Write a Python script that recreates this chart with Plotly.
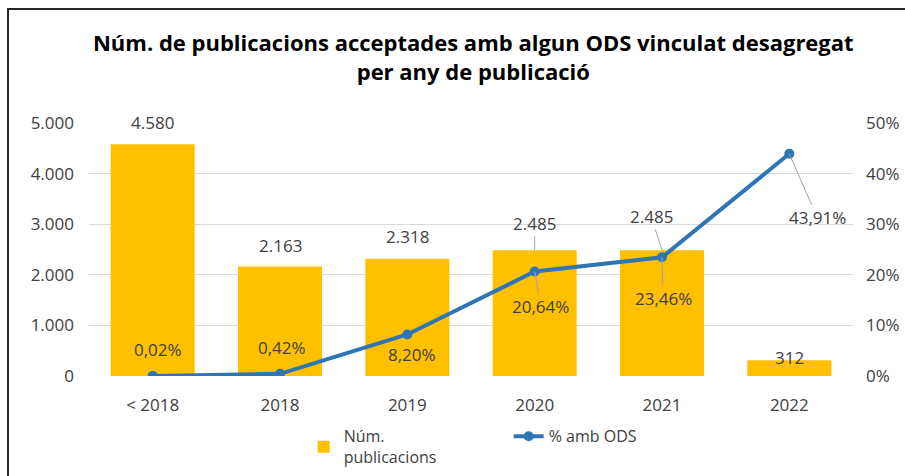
import plotly.graph_objects as go

# ---- data ----
categories = ["< 2018", "2018", "2019", "2020", "2021", "2022"]
num_publicacions = [4580, 2163, 2318, 2485, 2485, 312]
pct_ods = [0.02, 0.42, 8.20, 20.64, 23.46, 43.91]
bar_labels = ["4.580", "2.163", "2.318", "2.485", "2.485", "312"]
pct_labels = ["0,02%", "0,42%", "8,20%", "20,64%", "23,46%", "43,91%"]
left_ticks = [0, 1000, 2000, 3000, 4000, 5000]
left_ticktext = ["0", "1.000", "2.000", "3.000", "4.000", "5.000"]
right_ticks = [0, 10, 20, 30, 40, 50]
right_ticktext = ["0%", "10%", "20%", "30%", "40%", "50%"]

xpos = list(range(len(categories)))

# ---- label placement (pixel offsets, style only) ----
# (dx, dy, leader): label centre offset from the point in screen px (dy up positive)
bar_label_pos = [(0, 22, False), (0, 21, False), (0, 22, False),
                 (0, 27, True), (-11, 34, True), (0, 3, False)]
pct_label_pos = [(5, 26, False), (2, 26, False), (5, -20, False),
                 (6, -35, True), (1, -41, True), (28, -64, True)]

FONT = "Open Sans"
TXT = "#404040"
BAR_COLOR = "#FFC000"
LINE_COLOR = "#2E75B6"
LEADER = "#A6A6A6"
LFONT = dict(family=FONT, size=17, color=TXT)

fig = go.Figure()
fig.add_trace(go.Bar(
    x=xpos, y=num_publicacions, name="Núm.<br>publicacions",
    marker=dict(color=BAR_COLOR, line=dict(width=0)), yaxis="y",
))
fig.add_trace(go.Scatter(
    x=xpos, y=pct_ods, name="% amb ODS", mode="lines+markers",
    line=dict(color=LINE_COLOR, width=4), marker=dict(size=10, color=LINE_COLOR),
    yaxis="y2",
))


def add_labels(values, labels, placements, yref):
    out = []
    for xi, v, lab, (dx, dy, leader) in zip(xpos, values, labels, placements):
        if leader:
            out.append(dict(x=xi, y=v, xref="x", yref=yref, text=lab, showarrow=True,
                            arrowhead=0, arrowwidth=1, arrowcolor=LEADER, ax=dx, ay=-dy,
                            font=LFONT))
        else:
            out.append(dict(x=xi, y=v, xref="x", yref=yref, text=lab, showarrow=False,
                            xshift=dx, yshift=dy, font=LFONT))
    return out


annotations = add_labels(num_publicacions, bar_labels, bar_label_pos, "y") + \
    add_labels(pct_ods, pct_labels, pct_label_pos, "y2")

fig.update_layout(
    width=905, height=476,
    margin=dict(l=89, r=52, t=123, b=100, autoexpand=False),
    paper_bgcolor="white", plot_bgcolor="white",
    title=dict(text="<b>Núm. de publicacions acceptades amb algun ODS vinculat desagregat<br>per any de publicació</b>",
               x=0.523, xanchor="center", y=0.893, yanchor="middle",
               font=dict(family=FONT, size=22, color="#000000")),
    bargap=0.34,
    showlegend=True,
    legend=dict(orientation="h", x=0.281, xanchor="left", y=-0.28, yanchor="middle",
                font=dict(family=FONT, size=16, color=TXT), entrywidth=160,
                bgcolor="rgba(0,0,0,0)"),
    xaxis=dict(tickvals=xpos, ticktext=categories, range=[-0.5, len(categories) - 0.5],
               showgrid=False, showline=False, zeroline=False, ticks="", automargin=False,
               ticklabelstandoff=17, tickfont=LFONT),
    yaxis=dict(range=[0, 5000], tickvals=left_ticks, ticktext=left_ticktext,
               showgrid=True, gridcolor="#D9D9D9", gridwidth=1, zeroline=False,
               showline=False, ticks="", automargin=False, ticklabelstandoff=14,
               tickfont=LFONT),
    yaxis2=dict(range=[0, 50], tickvals=right_ticks, ticktext=right_ticktext,
                overlaying="y", side="right", showgrid=False, zeroline=False,
                showline=False, ticks="", automargin=False, ticklabelstandoff=12,
                tickfont=LFONT),
    annotations=annotations,
    shapes=[dict(type="rect", xref="paper", yref="paper",
                 x0=(8 - 89) / 764, x1=(915 - 89) / 764,
                 y0=(376 - 490) / 253, y1=(376 - 9) / 253,
                 line=dict(color="#262626", width=2), fillcolor="rgba(0,0,0,0)", layer="below")],
)

fig.write_html("out.html", config={"displayModeBar": False},
               post_script="document.body.style.margin='0px';document.body.style.overflow='hidden';")
